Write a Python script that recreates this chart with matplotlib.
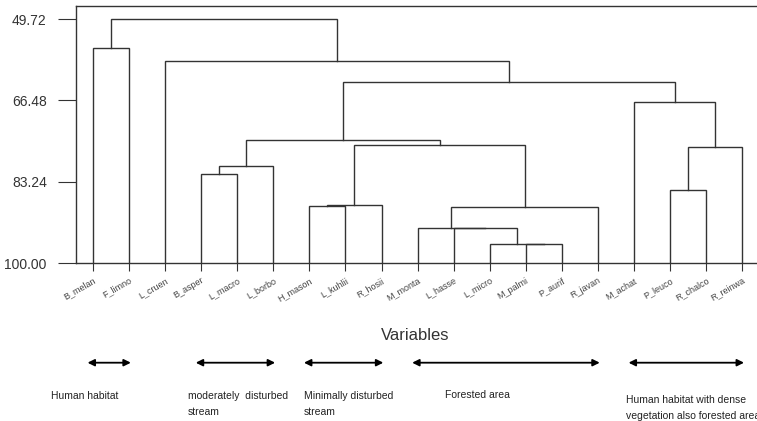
import matplotlib
matplotlib.use("Agg")
import matplotlib.pyplot as plt
from matplotlib.transforms import blended_transform_factory

plt.rcParams['font.family'] = ['Liberation Sans', 'DejaVu Sans']

# leaf order along the x axis
leaves = ['B_melan', 'F_limno', 'L_cruen', 'B_asper', 'L_macro', 'L_borbo',
          'H_mason', 'L_kuhlii', 'R_hosii', 'M_monta', 'L_hasse', 'L_micro',
          'M_palmi', 'P_aurif', 'R_javan', 'M_achat', 'P_leuco', 'R_chalco',
          'R_reinwa']

# merges: (node a, node b, similarity level); new clusters get ids 19, 20, ...
merge_a = [12, 11, 10, 9, 22, 6, 24, 16, 3, 27, 26, 25, 28, 15, 31, 2, 0, 35]
merge_b = [13, 19, 20, 21, 14, 7, 8, 17, 4, 5, 18, 23, 30, 29, 32, 33, 1, 34]
merge_h = [95.96, 95.96, 92.67, 92.67, 88.33, 88.27, 88.06, 84.85, 81.56,
           79.91, 76.06, 75.59, 74.68, 66.86, 62.62, 58.30, 55.63, 49.72]

yticks = [49.72, 66.48, 83.24, 100.00]

# habitat groups under the leaves: label, first leaf, last leaf
group_labels = ['Human habitat', 'moderately  disturbed\nstream',
                'Minimally disturbed\nstream', 'Forested area',
                'Human habitat with dense\nvegetation also forested area']
group_first = [0, 3, 6, 9, 15]
group_last = [1, 5, 8, 14, 18]

fig = plt.figure(figsize=(7.57, 4.21), dpi=100)
ax = fig.add_axes([76 / 757, 1 - 263.3 / 421, 1 - 76 / 757, (263.3 - 5.7) / 421])

line_col = '#333333'
xs = list(range(len(leaves)))
hs = [100.0] * len(leaves)
for a, b, h in zip(merge_a, merge_b, merge_h):
    ax.plot([xs[a], xs[a], xs[b], xs[b]], [hs[a], h, h, hs[b]],
            color=line_col, lw=1.0, solid_joinstyle='miter')
    xs.append((xs[a] + xs[b]) / 2)
    hs.append(h)

ax.set_xlim(-0.47, 18.41)
ax.set_ylim(100, 46.98)
ax.set_yticks(yticks)
ax.set_yticklabels(['%.2f' % v for v in yticks], fontsize=10, color='#333333')
ax.set_xticks(range(len(leaves)))
ax.set_xticklabels(leaves, rotation=30, ha='right', va='top',
                   rotation_mode='anchor', fontsize=6.5, color='#444444')
ax.tick_params(axis='y', direction='out', length=13, width=0.8, pad=8,
               color=line_col)
ax.tick_params(axis='x', direction='out', length=6, width=0.8, pad=3,
               color=line_col)
ax.spines['right'].set_visible(False)
for s in ['left', 'top', 'bottom']:
    ax.spines[s].set_color(line_col)
    ax.spines[s].set_linewidth(1.0)

fig.text(415 / 757, 1 - 335 / 421, 'Variables', fontsize=12, color='#333333',
         ha='center', va='center')

trans = blended_transform_factory(ax.transData, fig.transFigure)
arrow_y = 1 - 362.7 / 421
# first-line centre of each group label, in pixels from the top-left
text_x = [51, 188, 304, 445, 626]
text_y = [396.7, 396.7, 396.7, 396, 400.7]
for lab, f, l, tx, ty in zip(group_labels, group_first, group_last, text_x, text_y):
    ax.annotate('', xy=(l + 0.05, arrow_y), xytext=(f - 0.15, arrow_y),
                xycoords=trans, textcoords=trans, annotation_clip=False,
                arrowprops=dict(arrowstyle='<|-|>', color='black', lw=1.3,
                                mutation_scale=10, shrinkA=0, shrinkB=0))
    fig.text(tx / 757, 1 - (ty - 5.5) / 421, lab, fontsize=7.5,
             color='#222222', ha='left', va='top', linespacing=1.75)

fig.savefig('out.png', dpi=100)
